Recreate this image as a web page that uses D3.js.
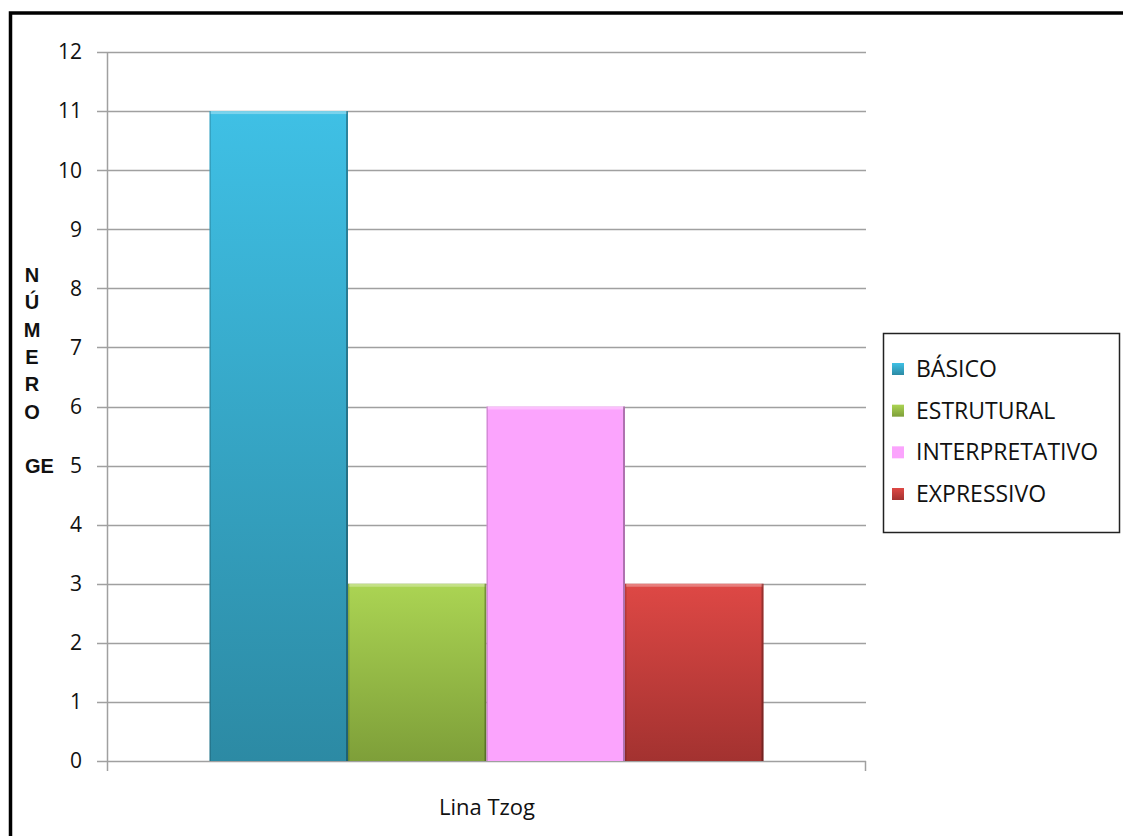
<!DOCTYPE html>
<html>
<head>
<meta charset="utf-8">
<script src="https://cdn.jsdelivr.net/npm/d3@7"></script>
<style>
  body { margin: 0; background: #fff; }
  svg { display: block; }
</style>
</head>
<body>
<div id="chart"></div>
<script>
// data
const group = ['Lina Tzog'];
const series = ['BÁSICO', 'ESTRUTURAL', 'INTERPRETATIVO', 'EXPRESSIVO'];
const values = [11, 3, 6, 3];
const yTicks = [0, 1, 2, 3, 4, 5, 6, 7, 8, 9, 10, 11, 12];
const yLabelLines = ['N', 'Ú', 'M', 'E', 'R', 'O', '', 'GE'];

const colors = [
    ['#3fc0e5', '#2c8aa4'],
    ['#abd453', '#7e9f39'],
    ['#fba4fd', '#fba4fd'],
    ['#de4845', '#a33230']
];

const W = 1123, H = 836;
const font = '"Open Sans", sans-serif';

const svg = d3.select('#chart').append('svg')
    .attr('width', W).attr('height', H);

// outer frame (cut at right/bottom)
svg.append('rect')
    .attr('x', 10.5).attr('y', 13)
    .attr('width', W + 10).attr('height', H + 10)
    .style('fill', '#fff').style('stroke', '#000').attr('stroke-width', 3.5);

const x0 = 107, x1 = 866, yTop = 52, yBot = 761;

const y = d3.scaleLinear().domain([0, 12]).range([yBot, yTop]);
const xg = d3.scaleBand().domain(group).range([x0, x1]).paddingInner(0).paddingOuter(0.185);
const xs = d3.scaleBand().domain(series).range([0, xg.bandwidth()]);

const defs = svg.append('defs');
colors.forEach((c, i) => {
    const g = defs.append('linearGradient').attr('id', 'g' + i)
        .attr('x1', 0).attr('y1', 0).attr('x2', 0).attr('y2', 1);
    g.append('stop').attr('offset', 0).attr('stop-color', c[0]);
    g.append('stop').attr('offset', 1).attr('stop-color', c[1]);
});

// gridlines
svg.append('g')
    .selectAll('line').data(yTicks).join('line')
    .attr('x1', x0 - 10).attr('x2', x1)
    .attr('y1', d => Math.round(y(d)) + 0.5).attr('y2', d => Math.round(y(d)) + 0.5)
    .style('stroke', '#a0a0a0').attr('stroke-width', 1.5);

// y axis line
svg.append('line')
    .attr('x1', x0 + 0.5).attr('x2', x0 + 0.5)
    .attr('y1', yTop).attr('y2', yBot + 10)
    .style('stroke', '#a0a0a0').attr('stroke-width', 1.5);
svg.append('line')
    .attr('x1', x1 - 0.5).attr('x2', x1 - 0.5)
    .attr('y1', yBot).attr('y2', yBot + 10)
    .style('stroke', '#a0a0a0').attr('stroke-width', 1.5);

// tick labels
svg.append('g')
    .selectAll('text').data(yTicks).join('text')
    .attr('x', 82).attr('y', d => y(d))
    .attr('dy', '0.35em')
    .attr('text-anchor', 'end')
    .style('font-family', font).style('font-size', '21px').style('fill', '#111')
    .text(d => d);

// bars
const bars = svg.append('g');
series.forEach((s, i) => {
    const bx = xg(group[0]) + xs(s);
    const bw = xs.bandwidth();
    const top = y(values[i]);
    bars.append('rect')
        .attr('x', bx).attr('y', top)
        .attr('width', bw).attr('height', yBot - top)
        .style('fill', `url(#g${i})`);
    // bevel highlights
    bars.append('rect')
        .attr('x', bx + 1).attr('y', top)
        .attr('width', bw - 2).attr('height', 3)
        .style('fill', '#fff').style('opacity', 0.3);
    bars.append('rect')
        .attr('x', bx + bw - 2).attr('y', top)
        .attr('width', 2).attr('height', yBot - top)
        .style('fill', '#000').style('opacity', 0.3);
    bars.append('rect')
        .attr('x', bx).attr('y', top)
        .attr('width', 1.5).attr('height', yBot - top)
        .style('fill', '#000').style('opacity', 0.15);
});

// category label
svg.append('text')
    .attr('x', xg(group[0]) + xg.bandwidth() / 2 + 0.5).attr('y', 815)
    .attr('text-anchor', 'middle')
    .style('font-family', font).style('font-size', '22px').style('fill', '#111')
    .text(group[0]);

// y title
svg.append('g')
    .selectAll('text').data(yLabelLines).join('text')
    .attr('x', d => d.length > 1 ? 25 : 32)
    .attr('y', (d, i) => 282 + i * 27.3)
    .attr('text-anchor', d => d.length > 1 ? 'start' : 'middle')
    .style('font-family', '"Liberation Sans Narrow", "Liberation Sans", Arial, sans-serif')
    .style('font-weight', 'bold').style('font-size', '20px').style('fill', '#111')
    .text(d => d);

// legend
const lg = svg.append('g');
lg.append('rect')
    .attr('x', 883.5).attr('y', 333.5).attr('width', 236).attr('height', 199)
    .style('fill', '#fff').style('stroke', '#222').attr('stroke-width', 1.5);
const ly = d3.scalePoint().domain(series).range([369, 494]);
series.forEach((s, i) => {
    lg.append('rect')
        .attr('x', 892).attr('y', ly(s) - 6)
        .attr('width', 12).attr('height', 12)
        .style('fill', `url(#g${i})`);
    lg.append('text')
        .attr('x', 916).attr('y', ly(s))
        .attr('dy', '0.35em')
        .style('font-family', font).style('font-size', '23px').style('fill', '#111')
        .text(s);
});
</script>
</body>
</html>
